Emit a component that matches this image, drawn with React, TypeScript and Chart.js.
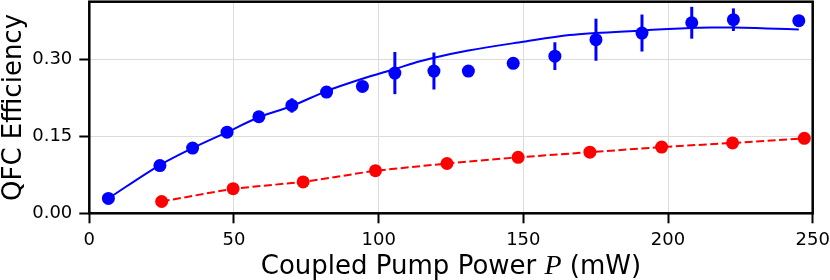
import React, { useEffect, useRef } from "react";
import { Chart, registerables } from "chart.js";

Chart.register(...registerables);

// Blue: measured QFC efficiency
const blueX = [6.6, 24.4, 35.7, 47.6, 58.6, 70.0, 82.0, 94.4, 105.6, 119.1, 131.0, 146.5, 160.9, 175.1, 191.0, 208.2, 222.6, 245.2];
const blueY = [0.029, 0.093, 0.127, 0.158, 0.188, 0.210, 0.236, 0.247, 0.273, 0.277, 0.277, 0.292, 0.306, 0.338, 0.351, 0.371, 0.377, 0.375];
const blueErr = [0, 0, 0, 0, 0, 0.014, 0, 0, 0.041, 0.036, 0, 0, 0.027, 0.041, 0.036, 0.031, 0.022, 0];

// Blue: fit curve
const fitX = [6.6, 24.4, 35.7, 47.6, 58.6, 70.0, 82.0, 94.4, 105.6, 114.3, 119.1, 131.0, 150.0, 166.0, 175.0, 191.0, 200.0, 208.0, 215.0, 223.0, 234.0, 245.2];
const fitY = [0.029, 0.094, 0.127, 0.158, 0.187, 0.209, 0.238, 0.262, 0.281, 0.296, 0.303, 0.317, 0.334, 0.347, 0.351, 0.356, 0.359, 0.361, 0.362, 0.362, 0.360, 0.358];

// Red: second series (dashed)
const redX = [25.0, 49.7, 73.9, 98.9, 123.6, 148.2, 173.0, 197.8, 222.3, 247.1];
const redY = [0.023, 0.048, 0.061, 0.083, 0.097, 0.109, 0.119, 0.129, 0.137, 0.146];

const xTicks = [0, 50, 100, 150, 200, 250];
const yTicks = [0, 0.15, 0.3];

const xTitleParts = ["Coupled Pump Power ", "P", " (mW)"];
const yTitle = "QFC Efficiency";

const BLUE = "#0000ff";
const RED = "#ff0000";
const FONT = '"DejaVu Sans", sans-serif';

export default function App() {
  const ref = useRef<HTMLCanvasElement | null>(null);

  useEffect(() => {
    document.body.style.margin = "0";
    const canvas = ref.current;
    if (!canvas) return;

    const errorBars = {
      id: "errorBars",
      afterDatasetsDraw(chart: any) {
        const { ctx, scales } = chart;
        ctx.save();
        ctx.strokeStyle = BLUE;
        ctx.lineWidth = 3;
        blueX.forEach((x, i) => {
          const e = blueErr[i];
          if (!e) return;
          const px = scales.x.getPixelForValue(x);
          ctx.beginPath();
          ctx.moveTo(px, scales.y.getPixelForValue(blueY[i] - e));
          ctx.lineTo(px, scales.y.getPixelForValue(blueY[i] + e));
          ctx.stroke();
        });
        ctx.restore();
      },
    };

    const frameAndTitles = {
      id: "frameAndTitles",
      afterDraw(chart: any) {
        const { ctx, chartArea } = chart;
        const { left, right, top, bottom } = chartArea;
        ctx.save();
        ctx.strokeStyle = "#000";
        ctx.lineWidth = 2.5;
        ctx.strokeRect(left, top, right - left, bottom - top);

        // x title
        ctx.fillStyle = "#000";
        ctx.textBaseline = "alphabetic";
        ctx.textAlign = "left";
        const fonts = [
          `26px ${FONT}`,
          `italic 28px "Liberation Serif", serif`,
          `26px ${FONT}`,
        ];
        let total = 0;
        const widths = xTitleParts.map((t, i) => {
          ctx.font = fonts[i];
          const w = ctx.measureText(t).width;
          total += w;
          return w;
        });
        let xpos = (left + right) / 2 - total / 2;
        xTitleParts.forEach((t, i) => {
          ctx.font = fonts[i];
          ctx.fillText(t, xpos, 274);
          xpos += widths[i];
        });

        // y title
        ctx.translate(21, (top + bottom) / 2);
        ctx.rotate(-Math.PI / 2);
        ctx.textAlign = "center";
        ctx.font = `26px ${FONT}`;
        ctx.fillText(yTitle, 0, 0);
        ctx.restore();
      },
    };

    const chart = new Chart(canvas, {
      type: "scatter",
      data: {
        datasets: [
          {
            label: "blue",
            data: blueX.map((x, i) => ({ x, y: blueY[i] })),
            showLine: false,
            pointRadius: 6.5,
            pointBackgroundColor: BLUE,
            pointBorderWidth: 0,
            backgroundColor: BLUE,
            borderColor: BLUE,
          },
          {
            label: "red",
            data: redX.map((x, i) => ({ x, y: redY[i] })),
            showLine: true,
            borderColor: RED,
            borderWidth: 2,
            borderDash: [8, 3.5],
            pointRadius: 6.5,
            pointBackgroundColor: RED,
            pointBorderWidth: 0,
            backgroundColor: RED,
          },
          {
            label: "fit",
            data: fitX.map((x, i) => ({ x, y: fitY[i] })),
            showLine: true,
            borderColor: BLUE,
            borderWidth: 2,
            pointRadius: 0,
            cubicInterpolationMode: "monotone",
          },
        ],
      },
      options: {
        responsive: false,
        animation: false,
        maintainAspectRatio: false,
        layout: { autoPadding: false, padding: { top: 1.7, right: 17.3, left: 0, bottom: 0 } },
        plugins: {
          legend: { display: false },
          tooltip: { enabled: false },
          title: { display: false },
        },
        scales: {
          x: {
            type: "linear",
            min: 0,
            max: 250,
            afterBuildTicks: (s: any) => {
              s.ticks = xTicks.map((v) => ({ value: v }));
            },
            afterFit: (s: any) => {
              s.height = 66.7;
              s.paddingLeft = 0;
              s.paddingRight = 0;
              s.paddingTop = 0;
              s.paddingBottom = 0;
            },
            ticks: {
              color: "#000",
              font: { family: FONT, size: 18 },
              padding: 6,
              maxRotation: 0,
              callback: (v: any) => String(v),
            },
            grid: {
              color: "#dcdcdc",
              lineWidth: 1,
              tickLength: 10,
              tickWidth: 2,
              tickColor: "#000",
              drawTicks: true,
            },
            border: { display: false },
          },
          y: {
            type: "linear",
            min: 0,
            max: 0.412,
            afterBuildTicks: (s: any) => {
              s.ticks = yTicks.map((v) => ({ value: v }));
            },
            afterFit: (s: any) => {
              s.width = 89.3;
              s.paddingLeft = 0;
              s.paddingRight = 0;
              s.paddingTop = 0;
              s.paddingBottom = 0;
            },
            ticks: {
              color: "#000",
              font: { family: FONT, size: 18 },
              padding: 7,
              callback: (v: any) => Number(v).toFixed(2),
            },
            grid: {
              color: "#dcdcdc",
              lineWidth: 1,
              tickLength: 10,
              tickWidth: 2,
              tickColor: "#000",
              drawTicks: true,
            },
            border: { display: false },
          },
        },
      },
      plugins: [errorBars, frameAndTitles],
    } as any);

    return () => chart.destroy();
  }, []);

  return <canvas ref={ref} width={830} height={280} style={{ display: "block" }} />;
}
